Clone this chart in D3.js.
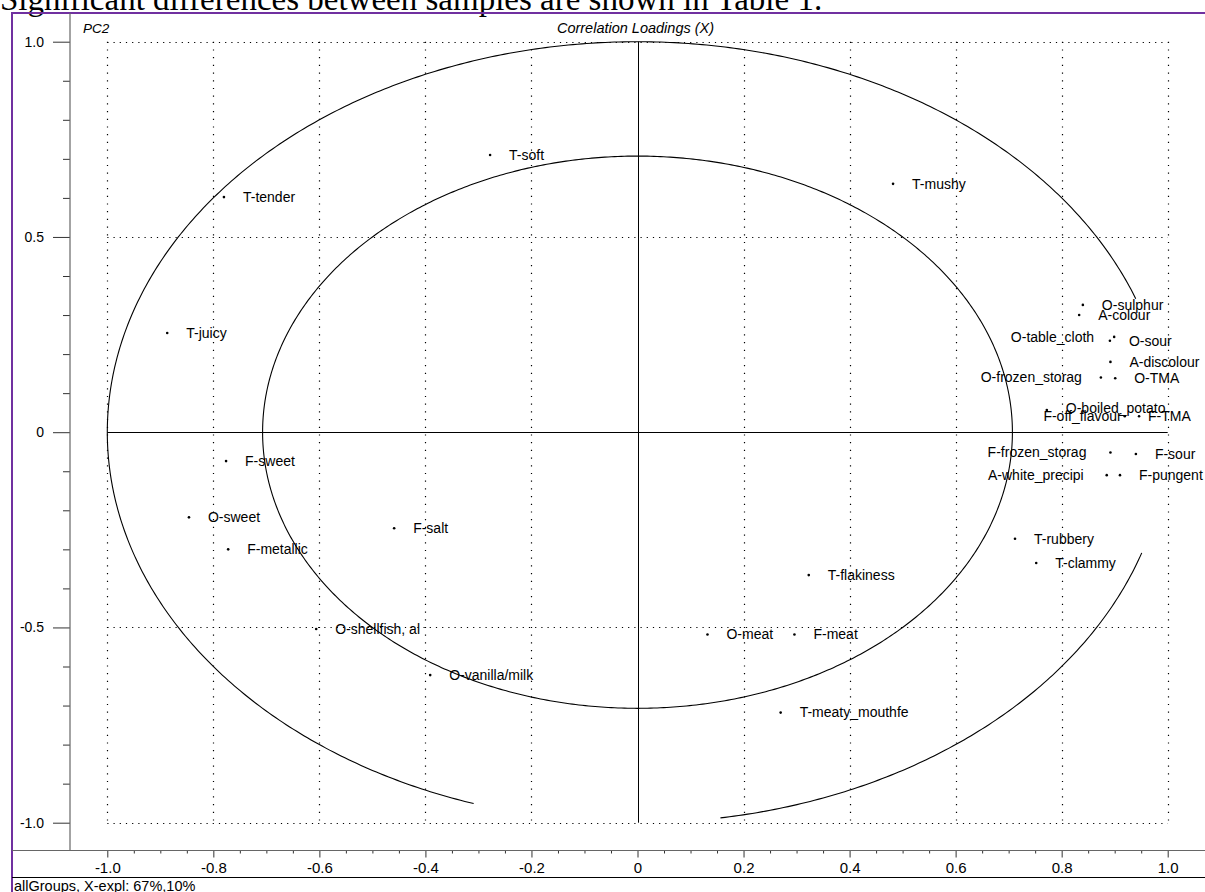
<!DOCTYPE html>
<html>
<head>
<meta charset="utf-8">
<script src="https://cdn.jsdelivr.net/npm/d3@7"></script>
<style>
  html, body { margin: 0; padding: 0; background: #fff; }
  svg { display: block; }
  text { font-family: "Liberation Sans", Arial, sans-serif; }
</style>
</head>
<body>
<svg id="chart" width="1205" height="892"></svg>
<script>
// ---- data: correlation loadings (PC1, PC2) ----
const names = [
  "T-soft", "T-tender", "T-mushy", "T-juicy",
  "O-sulphur", "A-colour", "O-table_cloth", "O-sour", "A-discolour",
  "O-frozen_storag", "O-TMA", "O-boiled_potato", "F-off_flavour", "F-TMA",
  "F-frozen_storag", "F-sour", "A-white_precipi", "F-pungent",
  "F-sweet", "O-sweet", "F-metallic", "F-salt", "O-shellfish, al", "O-vanilla/milk",
  "T-flakiness", "O-meat", "F-meat", "T-meaty_mouthfe", "T-rubbery", "T-clammy"
];
const pc1 = [
  -0.278, -0.780, 0.482, -0.887,
  0.840, 0.833, 0.899, 0.891, 0.892,
  0.874, 0.901, 0.772, 0.919, 0.946,
  0.892, 0.940, 0.885, 0.910,
  -0.776, -0.846, -0.772, -0.459, -0.606, -0.391,
  0.323, 0.132, 0.296, 0.270, 0.712, 0.752
];
const pc2 = [
  0.710, 0.602, 0.636, 0.254,
  0.326, 0.300, 0.244, 0.234, 0.180,
  0.140, 0.138, 0.057, 0.041, 0.041,
  -0.052, -0.056, -0.110, -0.110,
  -0.074, -0.218, -0.300, -0.246, -0.504, -0.622,
  -0.366, -0.518, -0.518, -0.718, -0.273, -0.335
];

const xTickValues = [-1, -0.8, -0.6, -0.4, -0.2, 0, 0.2, 0.4, 0.6, 0.8, 1];
const xTickLabels = ["-1.0", "-0.8", "-0.6", "-0.4", "-0.2", "0", "0.2", "0.4", "0.6", "0.8", "1.0"];
const yTickValues = [1, 0.5, 0, -0.5, -1];
const yTickLabels = ["1.0", "0.5", "0", "-0.5", "-1.0"];
const yGridValues = [1, 0.5, -0.5, -1];

const plotTitle = "Correlation Loadings (X)";
const yAxisName = "PC2";
const footerText = "allGroups, X-expl: 67%,10%";
const captionText = "Significant differences between samples are shown in Table 1.";

// explained-variance circles (radius) and the angle spans (degrees) drawn for each
const outerRadius = 1;
const innerRadius = Math.SQRT1_2;
const outerSpans = [[20, 252], [279, 342]];
const innerSpans = [[0, 360]];

// ---- layout ----
const W = 1205, H = 892;
const axisX = 70, axisY = 850.5, frameTop = 13, frameLeft = 12;
const svg = d3.select("#chart");
svg.append("rect").attr("width", W).attr("height", H).attr("fill", "#fff");

const x = d3.scaleLinear().domain([-1, 1]).range([107.3, 1167.7]);
const y = d3.scaleLinear().domain([-1, 1]).range([822.7, 41.7]);

// label placement relative to each point (px); negative = right-aligned to the left
const labelDx = {
  "O-table_cloth": -20, "O-frozen_storag": -19, "F-frozen_storag": -24,
  "A-white_precipi": -23, "F-off_flavour": -3, "F-TMA": 9
};
const labelDy = { "O-boiled_potato": -2 };

// caption line above the figure
svg.append("text")
  .attr("x", 0).attr("y", 9.5)
  .style("font-family", "'Liberation Serif', 'Times New Roman', serif")
  .style("font-size", "33px").attr("fill", "#000")
  .text(captionText);

// purple figure frame
svg.append("path")
  .attr("d", `M${frameLeft},${H}V${frameTop}H${W}`)
  .attr("fill", "none").attr("stroke", "#7030a0").attr("stroke-width", 2);

// dotted grid
const grid = svg.append("g").attr("stroke", "#000").attr("stroke-width", 1.2).attr("fill", "none");
xTickValues.filter(v => v !== 0).forEach(v => {
  grid.append("line")
    .attr("x1", Math.round(x(v)) + 0.5).attr("x2", Math.round(x(v)) + 0.5)
    .attr("y1", y(1)).attr("y2", y(-1))
    .attr("stroke-dasharray", "1.2,6.5");
});
yGridValues.forEach(v => {
  grid.append("line")
    .attr("x1", x(-1)).attr("x2", x(1))
    .attr("y1", Math.round(y(v)) + 0.5).attr("y2", Math.round(y(v)) + 0.5)
    .attr("stroke-dasharray", "1.2,5");
});

// zero lines
svg.append("line")
  .attr("x1", x(-1)).attr("x2", x(1))
  .attr("y1", Math.round(y(0)) + 0.5).attr("y2", Math.round(y(0)) + 0.5)
  .attr("stroke", "#000").attr("stroke-width", 1);
svg.append("line")
  .attr("x1", Math.round(x(0)) + 0.5).attr("x2", Math.round(x(0)) + 0.5)
  .attr("y1", y(1)).attr("y2", y(-1))
  .attr("stroke", "#000").attr("stroke-width", 1);

// circles
const arcLine = d3.line().x(d => x(d[0])).y(d => y(d[1]));
function arcPoints(r, a0, a1) {
  const pts = [];
  for (let a = a0; a <= a1 + 1e-9; a += 0.5) {
    const t = a * Math.PI / 180;
    pts.push([r * Math.cos(t), r * Math.sin(t)]);
  }
  return pts;
}
const circles = svg.append("g").attr("fill", "none").attr("stroke", "#000").attr("stroke-width", 1.1);
outerSpans.forEach(s => circles.append("path").attr("d", arcLine(arcPoints(outerRadius, s[0], s[1]))));
innerSpans.forEach(s => circles.append("path").attr("d", arcLine(arcPoints(innerRadius, s[0], s[1]))));

// y axis
const yAxisG = svg.append("g").attr("transform", `translate(${axisX},0)`);
yAxisG.call(d3.axisLeft(y).tickValues(yTickValues).tickSize(17).tickPadding(9)
  .tickFormat((d, i) => yTickLabels[i]));
const yMinor = d3.range(-10, 11).map(i => i / 10).filter(v => Math.abs(v * 2 - Math.round(v * 2)) > 1e-6);
svg.append("g").attr("transform", `translate(${axisX},0)`)
  .call(d3.axisLeft(y).tickValues(yMinor).tickSize(7).tickFormat(""))
  .call(g => g.select(".domain").remove());
yAxisG.select(".domain").remove();
svg.append("line").attr("x1", axisX).attr("x2", axisX).attr("y1", frameTop).attr("y2", axisY)
  .attr("stroke", "#666").attr("stroke-width", 1.2);

// x axis
const xAxisG = svg.append("g").attr("transform", `translate(0,${axisY})`);
xAxisG.call(d3.axisBottom(x).tickValues(xTickValues).tickSize(7).tickPadding(5)
  .tickFormat((d, i) => xTickLabels[i]));
const xMinor = d3.range(-20, 21).map(i => i / 20).filter(v => Math.abs(v * 5 - Math.round(v * 5)) > 1e-6);
svg.append("g").attr("transform", `translate(0,${axisY})`)
  .call(d3.axisBottom(x).tickValues(xMinor).tickSize(3).tickFormat(""))
  .call(g => g.select(".domain").remove());
xAxisG.select(".domain").remove();
svg.append("line").attr("x1", frameLeft).attr("x2", W).attr("y1", axisY).attr("y2", axisY)
  .attr("stroke", "#666").attr("stroke-width", 1.2);

svg.selectAll(".tick line").attr("stroke", "#333");
svg.selectAll(".tick text").attr("fill", "#000")
  .style("font-family", "'Liberation Sans', Arial, sans-serif");
yAxisG.selectAll(".tick text").style("font-size", "14px");
xAxisG.selectAll(".tick text").style("font-size", "15px");

// bottom rule and footer
svg.append("line").attr("x1", frameLeft).attr("x2", W).attr("y1", 877.5).attr("y2", 877.5)
  .attr("stroke", "#000").attr("stroke-width", 1);
svg.append("text").attr("x", 14).attr("y", 890.5)
  .style("font-size", "14.5px").attr("fill", "#000").text(footerText);

// plot headings
svg.append("text").attr("x", 83).attr("y", 33)
  .style("font-size", "13.5px").style("font-style", "italic").text(yAxisName);
svg.append("text").attr("x", x(0) - 2).attr("y", 33).attr("text-anchor", "middle")
  .style("font-size", "14.5px").style("font-style", "italic").text(plotTitle);

// loadings
const pts = names.map((n, i) => ({ name: n, px: pc1[i], py: pc2[i] }));
const pg = svg.append("g");
pg.selectAll("circle").data(pts).join("circle")
  .attr("cx", d => x(d.px)).attr("cy", d => y(d.py)).attr("r", 1.3).attr("fill", "#000");
pg.selectAll("text").data(pts).join("text")
  .attr("x", d => x(d.px) + (labelDx[d.name] !== undefined ? labelDx[d.name] : 19))
  .attr("y", d => y(d.py) + (labelDy[d.name] || 0))
  .attr("dy", "0.35em")
  .attr("text-anchor", d => (labelDx[d.name] !== undefined && labelDx[d.name] < 0) ? "end" : "start")
  .style("font-size", "14px").attr("fill", "#000")
  .text(d => d.name);
</script>
</body>
</html>
